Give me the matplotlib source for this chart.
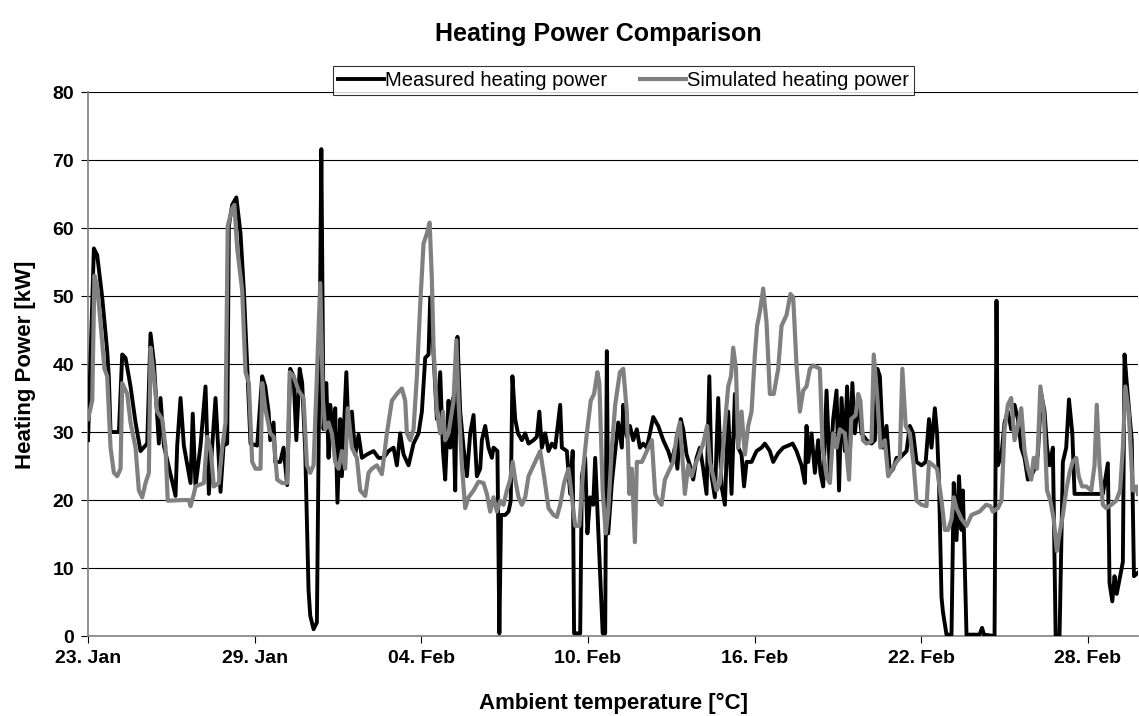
import numpy as np
import pandas as pd
import matplotlib
matplotlib.use("Agg")
import matplotlib.pyplot as plt
import matplotlib.dates as mdates

plt.rcParams['font.family'] = ['Liberation Sans', 'DejaVu Sans']

# time in days after 23 Jan 00:00, values in kW
measured_days = [0.00, 0.21, 0.33, 0.51, 0.69, 0.75, 0.81, 1.11, 1.23, 1.35, 1.53, 1.71, 1.89, 2.13, 2.25,
                 2.37, 2.55, 2.61, 2.73, 3.15, 3.21, 3.33, 3.45, 3.69, 3.77, 3.87, 4.05, 4.23, 4.35, 4.47,
                 4.59, 4.77, 4.88, 5.01, 5.07, 5.19, 5.34, 5.49, 5.61, 5.73, 5.85, 6.09, 6.27, 6.38, 6.50,
                 6.56, 6.68, 6.74, 6.92, 7.04, 7.17, 7.28, 7.40, 7.50, 7.62, 7.71, 7.82, 7.94, 8.00, 8.12,
                 8.24, 8.34, 8.40, 8.48, 8.58, 8.66, 8.72, 8.82, 8.90, 8.98, 9.08, 9.14, 9.23, 9.30, 9.38,
                 9.50, 9.62, 9.74, 9.86, 10.04, 10.28, 10.46, 10.64, 10.82, 11.00, 11.12, 11.24, 11.36,
                 11.54, 11.72, 11.90, 12.02, 12.14, 12.26, 12.32, 12.44, 12.56, 12.68, 12.78, 12.86, 12.98,
                 13.04, 13.14, 13.22, 13.30, 13.40, 13.52, 13.64, 13.76, 13.88, 14.00, 14.12, 14.18, 14.30,
                 14.42, 14.54, 14.60, 14.74, 14.81, 14.87, 15.02, 15.14, 15.22, 15.28, 15.38, 15.48, 15.62,
                 15.74, 15.86, 16.04, 16.16, 16.25, 16.34, 16.46, 16.58, 16.70, 16.82, 17.00, 17.06, 17.24,
                 17.36, 17.45, 17.50, 17.72, 17.78, 17.90, 17.98, 18.08, 18.19, 18.26, 18.37, 18.53, 18.62,
                 18.68, 18.73, 18.86, 18.98, 19.09, 19.22, 19.27, 19.33, 19.40, 19.51, 19.63, 19.76, 19.87,
                 19.99, 20.12, 20.23, 20.35, 20.53, 20.71, 20.89, 21.01, 21.13, 21.22, 21.34, 21.43, 21.55,
                 21.67, 21.79, 21.91, 22.03, 22.15, 22.27, 22.37, 22.45, 22.57, 22.69, 22.81, 22.93, 23.05,
                 23.17, 23.29, 23.41, 23.53, 23.62, 23.71, 23.89, 24.07, 24.25, 24.37, 24.55, 24.67, 24.85,
                 25.03, 25.21, 25.37, 25.51, 25.69, 25.81, 25.87, 25.93, 26.05, 26.17, 26.29, 26.37, 26.47,
                 26.59, 26.71, 26.83, 26.95, 27.04, 27.13, 27.25, 27.33, 27.43, 27.52, 27.61, 27.73, 27.85,
                 28.03, 28.21, 28.33, 28.42, 28.51, 28.63, 28.75, 28.87, 28.99, 29.11, 29.23, 29.47, 29.59,
                 29.71, 29.83, 30.01, 30.16, 30.28, 30.37, 30.49, 30.57, 30.64, 30.73, 30.78, 30.91, 31.09,
                 31.17, 31.27, 31.36, 31.45, 31.50, 31.63, 32.10, 32.19, 32.26, 32.64, 32.71, 32.76, 32.89,
                 33.00, 33.12, 33.24, 33.36, 33.48, 33.60, 33.72, 33.84, 33.96, 34.08, 34.20, 34.32, 34.44,
                 34.53, 34.62, 34.74, 34.84, 34.98, 35.10, 35.22, 35.32, 35.44, 35.52, 36.54, 36.72, 36.78,
                 36.88, 36.96, 37.04, 37.14, 37.26, 37.32, 37.40, 37.49, 37.58, 37.66, 37.80]
measured_kw = [28.8, 57.0, 56.0, 49.8, 41.9, 38.0, 30.0, 30.0, 41.4, 40.9, 36.7, 31.4, 27.2, 28.3, 44.5,
               40.3, 28.3, 35.0, 28.0, 20.6, 28.0, 35.0, 28.0, 22.5, 32.7, 22.0, 28.0, 36.7, 20.9, 28.0,
               35.0, 21.2, 28.0, 28.3, 60.3, 63.4, 64.5, 59.2, 50.8, 39.8, 28.3, 28.0, 38.2, 36.7, 33.0,
               28.8, 31.4, 25.6, 25.6, 27.7, 22.2, 39.3, 38.2, 28.8, 39.3, 37.2, 27.2, 6.7, 3.0, 1.0,
               2.0, 43.5, 71.6, 30.4, 37.2, 26.2, 34.0, 29.8, 33.5, 19.6, 31.9, 23.5, 31.9, 38.8, 29.8,
               33.0, 26.7, 29.6, 26.2, 26.7, 27.2, 26.2, 26.2, 27.2, 27.7, 25.1, 29.8, 26.7,
               25.1, 28.3, 29.8, 33.0, 40.9, 41.4, 49.8, 41.4, 31.9, 38.8, 27.2, 23.0, 34.6,
               27.7, 35.0, 21.4, 44.0, 33.0, 27.7, 23.5, 29.8, 32.5, 23.5, 24.6, 28.8, 30.9,
               27.7, 26.2, 27.7, 27.2, 0.4, 17.8, 17.8, 18.3, 19.9, 38.2, 31.9, 29.8, 28.8,
               29.8, 28.3, 28.8, 29.3, 33.0, 27.7, 29.8, 27.2, 28.3, 27.7, 34.0, 27.7, 27.2,
               20.9, 27.2, 0.4, 0.4, 23.5, 26.2, 15.1, 20.4, 19.3, 26.2, 15.6, 0.4, 0.4,
               41.9, 15.1, 22.5, 27.2, 31.4, 27.7, 34.0, 30.9, 29.3, 30.9, 28.8, 30.4, 27.7,
               28.3, 27.7, 29.8, 32.2, 30.9, 28.8, 27.2, 25.6, 27.7, 24.6, 31.9, 30.4, 26.7,
               25.1, 23.0, 26.2, 27.7, 24.6, 20.9, 38.2, 23.5, 20.4, 35.0, 22.0, 19.3, 33.0,
               20.9, 35.6, 27.7, 26.7, 22.0, 25.6, 25.6, 27.2, 27.7, 28.3, 27.2, 25.6, 26.9,
               27.7, 28.0, 28.3, 27.2, 25.1, 22.5, 30.9, 25.6, 29.8, 24.0, 28.8, 24.0, 22.0,
               36.1, 24.0, 31.9, 36.1, 21.4, 35.0, 27.2, 36.7, 26.7, 37.2, 29.8, 34.6, 29.8,
               28.8, 28.3, 28.8, 39.3, 38.2, 27.7, 30.9, 24.0, 24.6, 26.2, 26.2, 27.2, 30.9,
               29.8, 25.6, 25.1, 25.6, 31.9, 27.7, 33.5, 29.8, 22.5, 5.7, 3.6, 0.2, 0.2,
               22.5, 14.1, 23.5, 15.6, 21.4, 0.2, 0.2, 1.2, 0.2, 0.0, 49.3, 25.1, 26.7,
               31.4, 33.0, 30.4, 34.0, 31.9, 27.7, 26.2, 23.0, 23.5, 24.6, 26.7, 35.6, 33.0,
               27.7, 25.1, 27.7, 0.0, 0.0, 25.6, 27.7, 34.8, 29.8, 20.9, 20.9, 25.4, 7.8,
               5.1, 8.8, 6.2, 8.3, 10.9, 41.4, 37.2, 33.0, 28.8, 8.8, 9.3]

simulated_days = [0.00, 0.15, 0.23, 0.33, 0.45, 0.59, 0.69, 0.81, 0.93, 1.05, 1.17, 1.23, 1.41, 1.53, 1.71,
                  1.83, 1.95, 2.07, 2.19, 2.25, 2.37, 2.49, 2.67, 2.79, 2.87, 3.45, 3.63, 3.69, 3.81, 3.87,
                  4.17, 4.29, 4.41, 4.53, 4.71, 4.83, 4.95, 5.03, 5.19, 5.27, 5.37, 5.55, 5.67, 5.79, 5.91,
                  6.03, 6.21, 6.27, 6.38, 6.56, 6.68, 6.81, 6.99, 7.17, 7.26, 7.40, 7.58, 7.76, 7.88, 8.00,
                  8.12, 8.24, 8.36, 8.46, 8.54, 8.66, 8.78, 8.90, 9.02, 9.14, 9.26, 9.35, 9.50, 9.68, 9.80,
                  9.98, 10.10, 10.22, 10.40, 10.58, 10.76, 10.94, 11.12, 11.30, 11.42, 11.48, 11.60, 11.72,
                  11.84, 11.96, 12.08, 12.20, 12.30, 12.38, 12.44, 12.56, 12.68, 12.78, 12.86, 12.98, 13.16,
                  13.26, 13.34, 13.46, 13.58, 13.70, 13.88, 14.06, 14.24, 14.36, 14.48, 14.60, 14.72, 14.84,
                  14.96, 15.08, 15.20, 15.29, 15.38, 15.50, 15.62, 15.74, 15.86, 16.04, 16.16, 16.28, 16.42,
                  16.58, 16.76, 16.88, 17.00, 17.14, 17.30, 17.42, 17.54, 17.69, 17.83, 17.96, 18.10, 18.22,
                  18.34, 18.41, 18.53, 18.64, 18.73, 18.86, 18.98, 19.15, 19.27, 19.40, 19.49, 19.58, 19.69,
                  19.76, 19.94, 20.12, 20.30, 20.42, 20.53, 20.65, 20.77, 20.95, 21.07, 21.19, 21.31, 21.49,
                  21.61, 21.73, 21.85, 21.97, 22.15, 22.29, 22.39, 22.51, 22.63, 22.75, 22.87, 22.97, 23.05,
                  23.15, 23.23, 23.33, 23.41, 23.53, 23.65, 23.77, 23.89, 24.01, 24.09, 24.19, 24.31, 24.43,
                  24.55, 24.69, 24.85, 24.97, 25.15, 25.29, 25.39, 25.51, 25.63, 25.75, 25.87, 25.99, 26.11,
                  26.35, 26.45, 26.59, 26.71, 26.83, 26.95, 27.07, 27.25, 27.40, 27.48, 27.64, 27.73, 27.81,
                  27.90, 28.03, 28.21, 28.29, 28.41, 28.53, 28.69, 28.81, 28.96, 29.11, 29.23, 29.32, 29.44,
                  29.59, 29.73, 29.83, 30.01, 30.19, 30.28, 30.43, 30.57, 30.73, 30.85, 30.97, 31.09, 31.17,
                  31.27, 31.45, 31.63, 31.81, 32.10, 32.34, 32.49, 32.58, 32.76, 32.89, 33.00, 33.12, 33.24,
                  33.36, 33.48, 33.60, 33.72, 33.84, 33.96, 34.05, 34.17, 34.29, 34.41, 34.53, 34.65, 34.77,
                  34.88, 34.98, 35.10, 35.22, 35.34, 35.45, 35.58, 35.67, 35.79, 35.94, 36.12, 36.24, 36.32,
                  36.42, 36.54, 36.66, 36.84, 37.02, 37.16, 37.26, 37.35, 37.47, 37.62, 37.74, 37.80]
simulated_kw = [31.9, 34.6, 53.0, 51.4, 46.0, 39.3, 38.2, 27.7, 24.0, 23.5, 24.6, 37.2, 35.6, 31.4, 27.7,
                21.4, 20.4, 22.5, 24.0, 42.4, 38.2, 33.0, 31.9, 27.7, 19.9, 20.0, 20.0, 19.1, 20.9, 22.0,
                22.5, 29.3, 27.5, 22.0, 22.5, 27.7, 31.4, 60.3, 62.9, 63.4, 57.0, 50.8, 38.8, 37.2, 25.6,
                24.6, 24.6, 37.2, 33.5, 29.8, 29.3, 23.0, 22.5, 22.5, 38.8, 38.2, 36.1, 35.0, 25.1, 24.0,
                25.1, 38.2, 51.9, 34.6, 30.4, 31.4, 29.8, 25.6, 24.6, 27.2, 24.6, 33.5, 27.7, 26.2, 21.4,
                20.6, 24.0, 24.6, 25.1, 23.8, 29.8, 34.6, 35.6, 36.4, 34.6, 29.8, 28.8, 30.4,
                38.2, 48.7, 57.7, 59.2, 60.8, 52.4, 42.4, 33.0, 29.8, 33.0, 28.8, 29.8, 34.6,
                43.5, 34.6, 25.1, 18.8, 20.4, 21.4, 22.7, 22.5, 20.9, 18.3, 20.4, 18.3, 19.9,
                19.3, 21.4, 23.0, 25.6, 23.0, 20.4, 19.3, 20.4, 23.5, 25.1, 26.2, 27.2, 23.5,
                18.8, 17.8, 17.5, 19.3, 22.5, 24.6, 20.4, 16.2, 16.2, 24.6, 29.8, 34.6, 35.6,
                38.8, 37.2, 21.4, 15.1, 18.3, 27.7, 34.0, 38.8, 39.3, 33.0, 20.9, 24.6, 13.8,
                25.6, 25.6, 27.2, 28.8, 20.9, 19.9, 19.3, 23.0, 24.6, 25.6, 29.3, 31.4, 20.9,
                25.1, 23.5, 25.1, 26.2, 28.3, 30.9, 25.6, 23.5, 21.4, 22.5, 27.7, 33.0, 36.7,
                38.2, 42.4, 39.3, 27.7, 33.0, 26.7, 30.9, 33.0, 41.4, 45.6, 47.7, 51.1, 46.1,
                35.6, 35.6, 39.3, 45.6, 47.2, 50.3, 49.8, 39.8, 33.0, 36.1, 36.7, 39.3, 39.8,
                39.3, 27.7, 23.5, 22.5, 29.8, 27.7, 30.4, 29.8, 23.0, 31.9, 32.5, 35.6, 34.6,
                28.8, 28.3, 28.6, 41.4, 35.6, 27.7, 28.8, 23.5, 24.6, 25.6, 26.2, 39.3, 30.9,
                29.8, 25.1, 19.9, 19.3, 19.1, 25.6, 25.1, 24.6, 19.9, 15.6, 15.6, 17.2, 20.4,
                18.8, 17.2, 16.2, 17.8, 18.3, 19.3, 19.1, 18.3, 18.8, 19.9, 30.4, 34.0, 35.0,
                28.8, 30.9, 33.5, 27.2, 24.6, 23.0, 26.2, 24.6, 36.7, 33.0, 21.4, 19.9, 17.2,
                12.5, 15.1, 17.8, 21.4, 24.0, 25.6, 26.2, 23.5, 22.0, 22.0, 21.4, 25.1, 34.0,
                25.1, 19.3, 18.8, 19.3, 19.9, 21.4, 27.7, 36.7, 33.0, 21.4, 22.0, 20.9]

start_date = pd.Timestamp("2009-01-23")
tick_dates = pd.date_range(start_date, periods=7, freq="6D")
y_ticks = [0, 10, 20, 30, 40, 50, 60, 70, 80]


def to_dates(days):
    return start_date + pd.to_timedelta(np.array(days), unit="D")


def main():
    fig = plt.figure(figsize=(11.39, 7.16), dpi=100)
    ax = fig.add_axes([0.0773, 0.1117, 0.9217, 0.7598])

    ax.plot(to_dates(measured_days), measured_kw, color="black", lw=2.8,
            label="Measured heating power", zorder=3)
    ax.plot(to_dates(simulated_days), simulated_kw, color="#808080", lw=3.0,
            label="Simulated heating power", zorder=4)

    ax.set_xlim(start_date, start_date + pd.Timedelta(days=37.8))
    ax.set_ylim(0, 80)
    ax.set_yticks(y_ticks)
    ax.set_xticks(tick_dates)
    ax.xaxis.set_major_formatter(mdates.DateFormatter("%d. %b"))

    ax.grid(axis="y", color="black", lw=0.8)
    ax.set_axisbelow(True)
    for side in ["top", "right"]:
        ax.spines[side].set_visible(False)
    ax.spines["left"].set_color("#808080")
    ax.spines["bottom"].set_color("#808080")
    ax.spines["left"].set_linewidth(1.2)
    ax.spines["bottom"].set_linewidth(1.2)
    ax.tick_params(axis="both", direction="out", length=5, width=0.8, color="black",
                   labelsize=14, pad=5)
    for lbl in ax.get_xticklabels() + ax.get_yticklabels():
        lbl.set_fontweight("bold")

    fig.text(0.525, 0.952, "Heating Power Comparison", ha="center", va="center",
             fontsize=18, fontweight="bold")
    fig.text(0.539, 0.018, "Ambient temperature [°C]", ha="center", va="center",
             fontsize=16, fontweight="bold")
    fig.text(0.022, 0.49, "Heating Power [kW]", ha="center", va="center", rotation=90,
             fontsize=16, fontweight="bold")

    leg = fig.legend(loc="center", bbox_to_anchor=(0.5474, 0.887), ncol=2, fontsize=14.5,
                     frameon=True, fancybox=False, handlelength=2.3, handletextpad=0.05,
                     columnspacing=1.6, borderpad=0.25, borderaxespad=0.3)
    leg.get_frame().set_edgecolor("black")
    leg.get_frame().set_linewidth(0.8)

    fig.savefig("out.png", dpi=100)


if __name__ == "__main__":
    main()
